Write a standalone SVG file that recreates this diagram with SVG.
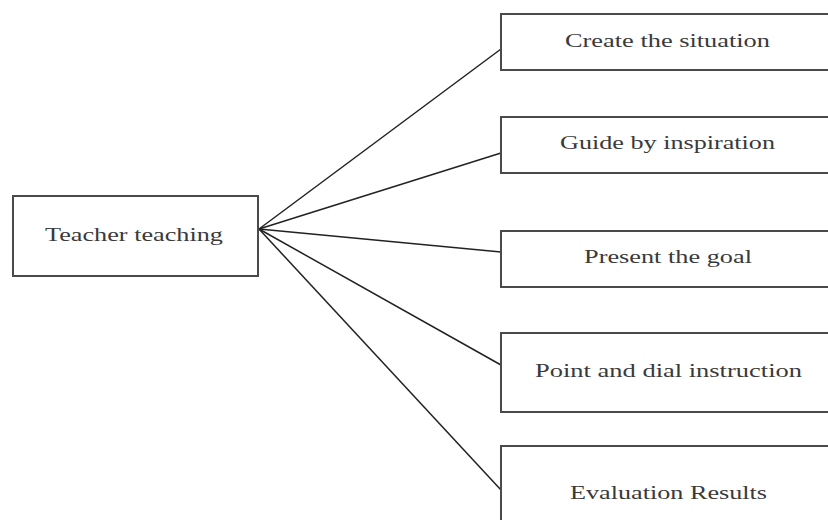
<svg xmlns="http://www.w3.org/2000/svg" width="828" height="520" viewBox="0 0 828 520">
<style>
.box{fill:#fff;stroke:#4a4a4a;stroke-width:2}
.lbl{font-family:"Liberation Serif","Times New Roman",serif;font-size:18px;fill:#3a3a3a;text-anchor:start}
.conn line{stroke:#222;stroke-width:1.5}
</style>
<rect x="0" y="0" width="828" height="520" fill="#fff"/>
<g class="conn" id="connectors">
<line x1="259" y1="229" x2="501" y2="49"/>
<line x1="259" y1="229" x2="501" y2="153"/>
<line x1="259" y1="229" x2="501" y2="252"/>
<line x1="259" y1="229" x2="501" y2="365"/>
<line x1="259" y1="229" x2="501" y2="490"/>
</g>
<g id="teacher">
<rect class="box" x="13" y="196" width="245" height="80"/>
<text class="lbl" x="45" y="241" textLength="178" lengthAdjust="spacingAndGlyphs">Teacher teaching</text>
</g>
<g id="create">
<rect class="box" x="501" y="14" width="340" height="56"/>
<text class="lbl" x="565" y="47" textLength="205" lengthAdjust="spacingAndGlyphs">Create the situation</text>
</g>
<g id="guide">
<rect class="box" x="501" y="117" width="340" height="56"/>
<text class="lbl" x="560" y="149" textLength="215" lengthAdjust="spacingAndGlyphs">Guide by inspiration</text>
</g>
<g id="present">
<rect class="box" x="501" y="231" width="340" height="56"/>
<text class="lbl" x="584" y="263" textLength="168" lengthAdjust="spacingAndGlyphs">Present the goal</text>
</g>
<g id="point">
<rect class="box" x="501" y="333" width="340" height="79"/>
<text class="lbl" x="535" y="377" textLength="267" lengthAdjust="spacingAndGlyphs">Point and dial instruction</text>
</g>
<g id="evaluation">
<rect class="box" x="501" y="446" width="340" height="90"/>
<text class="lbl" x="570" y="499" textLength="197" lengthAdjust="spacingAndGlyphs">Evaluation Results</text>
</g>
</svg>
